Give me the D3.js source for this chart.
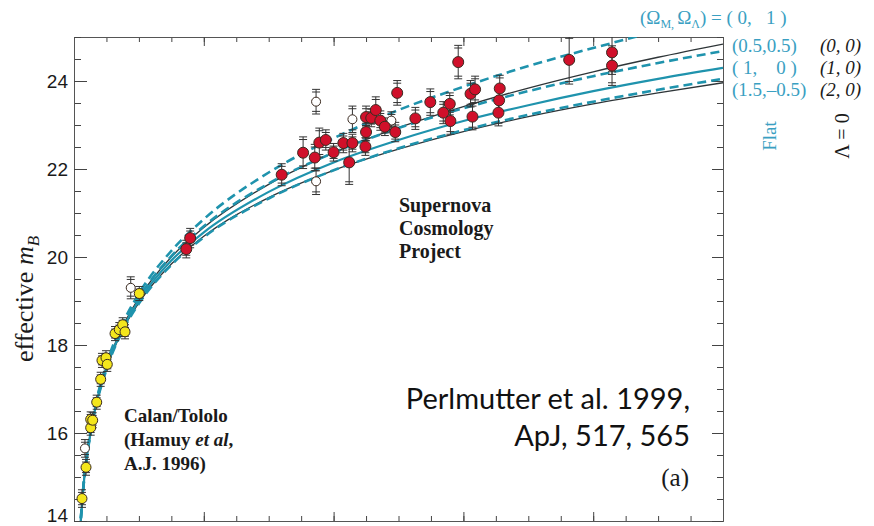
<!DOCTYPE html>
<html>
<head>
<meta charset="utf-8">
<script src="https://cdn.jsdelivr.net/npm/d3@7"></script>
<style>
  body { margin: 0; background: #fff; }
  svg { display: block; }
  text { white-space: pre; }
</style>
</head>
<body>
<svg id="chart"></svg>
<script>
// Supernova Cosmology Project (filled red)
const scpZ   = [0.173, 0.179, 0.320, 0.353, 0.371, 0.378, 0.388, 0.400, 0.415, 0.424, 0.429, 0.450, 0.450, 0.449, 0.458, 0.465, 0.472, 0.479, 0.495, 0.498, 0.526, 0.549, 0.569, 0.579, 0.580, 0.592, 0.611, 0.618, 0.614, 0.656, 0.655, 0.654, 0.763, 0.829, 0.829];
const scpM   = [20.18, 20.43, 21.87, 22.37, 22.26, 22.60, 22.66, 22.38, 22.59, 22.15, 22.59, 23.18, 22.84, 22.51, 23.16, 23.34, 23.10, 22.96, 22.84, 23.73, 23.15, 23.52, 23.28, 23.48, 23.09, 24.43, 23.71, 23.81, 23.19, 23.83, 23.56, 23.28, 24.48, 24.65, 24.35];
const scpErr = [0.20, 0.22, 0.25, 0.36, 0.30, 0.33, 0.23, 0.20, 0.22, 0.50, 0.20, 0.25, 0.20, 0.20, 0.20, 0.30, 0.22, 0.20, 0.22, 0.28, 0.25, 0.30, 0.25, 0.25, 0.30, 0.38, 0.30, 0.30, 0.30, 0.30, 0.30, 0.30, 0.55, 0.50, 0.45];

// Calan/Tololo (filled yellow)
const ctZ   = [0.0123, 0.0185, 0.0257, 0.0257, 0.0288, 0.0350, 0.0411, 0.0431, 0.0493, 0.0513, 0.0632, 0.0698, 0.0750, 0.0786, 0.1006];
const ctM   = [14.51, 15.22, 16.12, 16.31, 16.29, 16.70, 17.22, 17.65, 17.71, 17.56, 18.26, 18.35, 18.46, 18.30, 19.17];
const ctErr = [0.20, 0.18, 0.17, 0.17, 0.17, 0.16, 0.16, 0.16, 0.16, 0.16, 0.16, 0.16, 0.16, 0.16, 0.16];

// excluded supernovae (open circles)
const exZ   = [0.0169, 0.0874, 0.373, 0.373, 0.429, 0.489];
const exM   = [15.65, 19.30, 23.53, 21.72, 23.13, 23.10];
const exErr = [0.20, 0.25, 0.28, 0.30, 0.30, 0.20];

// model curves, effective m_B read at these redshifts
const curveZ   = [0.009, 0.015, 0.02, 0.03, 0.05, 0.075, 0.1, 0.15, 0.2, 0.3, 0.4, 0.5, 0.6, 0.7, 0.8, 0.9, 1.0];
const mFlat01  = [13.75, 14.87, 15.51, 16.41, 17.56, 18.49, 19.17, 20.14, 20.86, 21.92, 22.70, 23.34, 23.87, 24.34, 24.75, 25.13, 25.47];
const mFlat55  = [13.74, 14.86, 15.49, 16.39, 17.52, 18.43, 19.08, 20.02, 20.70, 21.67, 22.37, 22.93, 23.38, 23.77, 24.11, 24.41, 24.68];
const mFlat10  = [13.74, 14.85, 15.48, 16.36, 17.48, 18.37, 19.01, 19.92, 20.56, 21.48, 22.15, 22.66, 23.09, 23.45, 23.77, 24.05, 24.30];
const mFlat15  = [13.73, 14.84, 15.46, 16.34, 17.44, 18.32, 18.94, 19.82, 20.45, 21.33, 21.97, 22.47, 22.88, 23.23, 23.53, 23.80, 24.05];
const mOpen00  = [13.74, 14.86, 15.49, 16.38, 17.51, 18.42, 19.07, 20.00, 20.67, 21.65, 22.37, 22.94, 23.42, 23.84, 24.21, 24.54, 24.84];
const mOpen20  = [13.73, 14.84, 15.47, 16.35, 17.45, 18.34, 18.96, 19.84, 20.47, 21.35, 21.97, 22.45, 22.85, 23.19, 23.48, 23.73, 23.96];

const yTickLabels = [14, 16, 18, 20, 22, 24];

const W = 874, H = 526;
const TEAL = "#1f93ad", TEAL_TXT = "#3a9fc2", DARK = "#2e3538";
const SERIF = "'Liberation Serif', 'Times New Roman', serif";
const SANS = "'Liberation Sans', Arial, sans-serif";

const svg = d3.select("#chart").attr("width", W).attr("height", H);

const x = d3.scaleLinear().domain([0, 1]).range([74, 723]);
const y = d3.scaleLinear().domain([14, 25]).range([521, 37]);

// clip to plot box
svg.append("clipPath").attr("id", "plotclip")
  .append("rect").attr("x", x(0)).attr("y", y(25)).attr("width", x(1) - x(0)).attr("height", y(14) - y(25));

// axes (ticks inward)
function styleAxis(g) {
  g.selectAll("path").attr("stroke", "#555");
  g.selectAll("line").attr("stroke", "#444");
  g.selectAll("text").attr("font-family", SANS).attr("font-size", 19).attr("fill", "#1a1a1a");
}
const xMinor = x.ticks(20), xMajor = [0, 0.2, 0.4, 0.6, 0.8, 1.0];
const yMinor = y.ticks(22);

svg.append("g").attr("transform", `translate(0,${y(14)})`)
  .call(d3.axisBottom(x).tickValues(xMinor).tickSizeInner(-5).tickSizeOuter(0).tickFormat(""))
  .call(styleAxis);
svg.append("g").attr("transform", `translate(0,${y(14)})`)
  .call(d3.axisBottom(x).tickValues(xMajor).tickSizeInner(-9).tickSizeOuter(0).tickFormat(""))
  .call(styleAxis);
svg.append("g").attr("transform", `translate(0,${y(25)})`)
  .call(d3.axisTop(x).tickValues(xMinor).tickSizeInner(-5).tickSizeOuter(0).tickFormat(""))
  .call(styleAxis);
svg.append("g").attr("transform", `translate(0,${y(25)})`)
  .call(d3.axisTop(x).tickValues(xMajor).tickSizeInner(-9).tickSizeOuter(0).tickFormat(""))
  .call(styleAxis);

svg.append("g").attr("transform", `translate(${x(0)},0)`)
  .call(d3.axisLeft(y).tickValues(yMinor).tickSizeInner(-7).tickSizeOuter(0).tickFormat(""))
  .call(styleAxis);
svg.append("g").attr("transform", `translate(${x(0)},0)`)
  .call(d3.axisLeft(y).tickValues(yTickLabels).tickSizeInner(-13).tickSizeOuter(0).tickPadding(6).tickFormat(d3.format("d")))
  .call(styleAxis)
  .call(g => g.selectAll(".tick text").filter(d => d === 14).attr("y", -6));
svg.append("g").attr("transform", `translate(${x(1)},0)`)
  .call(d3.axisRight(y).tickValues(yMinor).tickSizeInner(-6).tickSizeOuter(0).tickFormat(""))
  .call(styleAxis);
svg.append("g").attr("transform", `translate(${x(1)},0)`)
  .call(d3.axisRight(y).tickValues(yTickLabels).tickSizeInner(-11).tickSizeOuter(0).tickFormat(""))
  .call(styleAxis);

// model curves
const plot = svg.append("g").attr("clip-path", "url(#plotclip)");
const line = d3.line()
  .x((d, i) => x(curveZ[i]))
  .y(d => y(d))
  .curve(d3.curveMonotoneX);

const curves = [
  { m: mOpen00, stroke: DARK, width: 1.3, dash: null },
  { m: mOpen20, stroke: DARK, width: 1.3, dash: null },
  { m: mFlat10, stroke: TEAL, width: 2.2, dash: null },
  { m: mFlat01, stroke: TEAL, width: 2.6, dash: "9,5" },
  { m: mFlat55, stroke: TEAL, width: 2.6, dash: "9,5" },
  { m: mFlat15, stroke: TEAL, width: 2.6, dash: "9,5" }
];
plot.selectAll("path.model")
  .data(curves)
  .enter()
  .append("path")
  .attr("class", "model")
  .attr("d", c => line(c.m))
  .attr("fill", "none")
  .attr("stroke", c => c.stroke)
  .attr("stroke-width", c => c.width)
  .attr("stroke-dasharray", c => c.dash);

// error bars with double caps
function errorBars(zs, ms, errs) {
  const rows = zs.map((z, i) => ({ z: z, m: ms[i], e: errs[i] }));
  const g = plot.append("g").attr("stroke", "#333").attr("stroke-width", 1);
  rows.forEach(d => {
    const cx = x(d.z);
    g.append("line").attr("x1", cx).attr("x2", cx).attr("y1", y(d.m - d.e)).attr("y2", y(d.m + d.e));
    [d.m - d.e, d.m + d.e, d.m - d.e + 0.06, d.m + d.e - 0.06].forEach(v => {
      g.append("line").attr("x1", cx - 4).attr("x2", cx + 4).attr("y1", y(v)).attr("y2", y(v));
    });
  });
}
errorBars(ctZ, ctM, ctErr);
errorBars(exZ, exM, exErr);
errorBars(scpZ, scpM, scpErr);

function points(zs, ms, fill, r) {
  plot.append("g").selectAll("circle")
    .data(zs.map((z, i) => ({ z: z, m: ms[i] })))
    .enter()
    .append("circle")
    .attr("cx", d => x(d.z))
    .attr("cy", d => y(d.m))
    .attr("r", r)
    .attr("fill", fill)
    .attr("stroke", "#3a2a20")
    .attr("stroke-width", 1);
}
points(exZ, exM, "#fff", 4.5);
points(ctZ, ctM, "#f4e61c", 5);
points(scpZ, scpM, "#d0102a", 5.5);

// y label
const yl = svg.append("text")
  .attr("transform", "translate(33,299) rotate(-90)")
  .attr("text-anchor", "middle")
  .attr("font-family", SERIF).attr("font-size", 26).attr("fill", "#1a1a1a");
yl.append("tspan").text("effective ");
yl.append("tspan").attr("font-style", "italic").text("m");
yl.append("tspan").attr("font-style", "italic").attr("font-size", 17).attr("dy", 6).text("B");

// legend labels
const legendTop = svg.append("text").attr("x", 640).attr("y", 24)
  .attr("font-family", SERIF).attr("font-size", 19).attr("fill", TEAL_TXT);
legendTop.append("tspan").text("(Ω");
legendTop.append("tspan").attr("font-size", 12).attr("dy", 4).text("M, ");
legendTop.append("tspan").attr("dy", -4).text("Ω");
legendTop.append("tspan").attr("font-size", 12).attr("dy", 4).text("Λ");
legendTop.append("tspan").attr("dy", -4).text(") = ( 0,   1 )");

const flatLabels = ["(0.5,0.5)", "( 1,    0 )", "(1.5,–0.5)"];
const openLabels = ["(0, 0)", "(1, 0)", "(2, 0)"];
const labelY = [52, 74, 96];
flatLabels.forEach((t, i) => {
  svg.append("text").attr("x", 732).attr("y", labelY[i])
    .attr("font-family", SERIF).attr("font-size", 19).attr("fill", TEAL_TXT).text(t);
});
openLabels.forEach((t, i) => {
  svg.append("text").attr("x", 820).attr("y", labelY[i])
    .attr("font-family", SERIF).attr("font-size", 19).attr("font-style", "italic").attr("fill", "#1a1a1a").text(t);
});
svg.append("text").attr("transform", "translate(776,136) rotate(-90)")
  .attr("text-anchor", "middle")
  .attr("font-family", SERIF).attr("font-size", 19).attr("fill", TEAL_TXT).text("Flat");
svg.append("text").attr("transform", "translate(849,136) rotate(-90)")
  .attr("text-anchor", "middle")
  .attr("font-family", SERIF).attr("font-size", 20).attr("fill", "#1a1a1a").text("Λ = 0");

// annotations
["Supernova", "Cosmology", "Project"].forEach((t, i) => {
  svg.append("text").attr("x", 399).attr("y", 212 + i * 23)
    .attr("font-family", SERIF).attr("font-size", 20).attr("font-weight", "bold").attr("fill", "#1a1a1a").text(t);
});
const ct = svg.append("g").attr("font-family", SERIF).attr("font-size", 19).attr("font-weight", "bold").attr("fill", "#1a1a1a");
ct.append("text").attr("x", 124).attr("y", 422).text("Calan/Tololo");
const ham = ct.append("text").attr("x", 124).attr("y", 446);
ham.append("tspan").text("(Hamuy ");
ham.append("tspan").attr("font-style", "italic").text("et al");
ham.append("tspan").text(",");
ct.append("text").attr("x", 124).attr("y", 470).text("A.J. 1996)");

const CITE = "Lato, 'Open Sans', sans-serif";
svg.append("text").attr("x", 690).attr("y", 409).attr("text-anchor", "end")
  .attr("font-family", CITE).attr("font-size", 29).attr("fill", "#111")
  .text("Perlmutter et al. 1999,");
svg.append("text").attr("x", 690).attr("y", 446).attr("text-anchor", "end")
  .attr("font-family", CITE).attr("font-size", 29).attr("fill", "#111")
  .text("ApJ, 517, 565");
svg.append("text").attr("x", 689).attr("y", 486).attr("text-anchor", "end")
  .attr("font-family", SERIF).attr("font-size", 25).attr("fill", "#1a1a1a").text("(a)");
</script>
</body>
</html>
